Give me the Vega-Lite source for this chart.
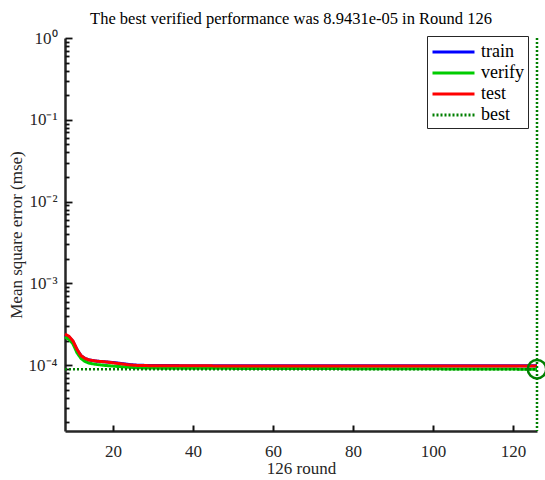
{
  "$schema": "https://vega.github.io/schema/vega-lite/v6.json",
  "width": 472,
  "height": 393,
  "autosize": "none",
  "padding": {"left": 65, "top": 38, "right": 8, "bottom": 49},
  "background": "white",
  "config": {
    "view": {"stroke": null},
    "font": "Liberation Serif",
    "axis": {"grid": false, "domainColor": "#262626", "domainWidth": 2.5, "labelFont": "Liberation Serif", "labelFontSize": 17, "labelColor": "#262626", "titleFont": "Liberation Serif", "titleFontSize": 17, "titleFontWeight": "normal", "titleColor": "#262626"}
  },
  "title": {"text": "The best verified performance was 8.9431e-05 in Round 126", "font": "Liberation Serif", "fontSize": 16.5, "fontWeight": "normal", "color": "#000000", "offset": 2, "dx": -10},
  "resolve": {"axis": {"x": "independent", "y": "independent"}},
  "data": {"values": [
    {"series": "train", "round": 8, "mse": 0.000235},
    {"series": "train", "round": 9, "mse": 0.000222},
    {"series": "train", "round": 10, "mse": 0.000195},
    {"series": "train", "round": 11, "mse": 0.000155},
    {"series": "train", "round": 12, "mse": 0.000131},
    {"series": "train", "round": 13, "mse": 0.000121},
    {"series": "train", "round": 14, "mse": 0.000116},
    {"series": "train", "round": 16, "mse": 0.000112},
    {"series": "train", "round": 18, "mse": 0.000110},
    {"series": "train", "round": 20, "mse": 0.000108},
    {"series": "train", "round": 22, "mse": 0.000105},
    {"series": "train", "round": 24, "mse": 0.000102},
    {"series": "train", "round": 26, "mse": 0.000100},
    {"series": "train", "round": 30, "mse": 0.0000990},
    {"series": "train", "round": 40, "mse": 0.0000988},
    {"series": "train", "round": 60, "mse": 0.0000987},
    {"series": "train", "round": 80, "mse": 0.0000987},
    {"series": "train", "round": 100, "mse": 0.0000986},
    {"series": "train", "round": 126, "mse": 0.0000986},
    {"series": "verify", "round": 8, "mse": 0.000222},
    {"series": "verify", "round": 9, "mse": 0.000208},
    {"series": "verify", "round": 10, "mse": 0.000182},
    {"series": "verify", "round": 11, "mse": 0.000142},
    {"series": "verify", "round": 12, "mse": 0.000121},
    {"series": "verify", "round": 13, "mse": 0.000111},
    {"series": "verify", "round": 14, "mse": 0.000106},
    {"series": "verify", "round": 16, "mse": 0.000102},
    {"series": "verify", "round": 18, "mse": 0.0000995},
    {"series": "verify", "round": 20, "mse": 0.0000975},
    {"series": "verify", "round": 22, "mse": 0.0000960},
    {"series": "verify", "round": 24, "mse": 0.0000945},
    {"series": "verify", "round": 26, "mse": 0.0000930},
    {"series": "verify", "round": 30, "mse": 0.0000922},
    {"series": "verify", "round": 40, "mse": 0.0000918},
    {"series": "verify", "round": 60, "mse": 0.0000912},
    {"series": "verify", "round": 80, "mse": 0.0000908},
    {"series": "verify", "round": 100, "mse": 0.0000903},
    {"series": "verify", "round": 126, "mse": 0.000089431},
    {"series": "test", "round": 8, "mse": 0.000240},
    {"series": "test", "round": 9, "mse": 0.000226},
    {"series": "test", "round": 10, "mse": 0.000198},
    {"series": "test", "round": 11, "mse": 0.000156},
    {"series": "test", "round": 12, "mse": 0.000131},
    {"series": "test", "round": 13, "mse": 0.000121},
    {"series": "test", "round": 14, "mse": 0.000116},
    {"series": "test", "round": 16, "mse": 0.000112},
    {"series": "test", "round": 18, "mse": 0.000110},
    {"series": "test", "round": 20, "mse": 0.000107},
    {"series": "test", "round": 22, "mse": 0.000104},
    {"series": "test", "round": 24, "mse": 0.000101},
    {"series": "test", "round": 26, "mse": 0.0000995},
    {"series": "test", "round": 30, "mse": 0.0000985},
    {"series": "test", "round": 40, "mse": 0.0000982},
    {"series": "test", "round": 60, "mse": 0.0000981},
    {"series": "test", "round": 80, "mse": 0.0000980},
    {"series": "test", "round": 100, "mse": 0.0000980},
    {"series": "test", "round": 126, "mse": 0.0000980},
    {"series": "best", "round": 8, "mse": 0.000089431},
    {"series": "best", "round": 126, "mse": 0.000089431}
  ]},
  "encoding": {
    "x": {"field": "round", "type": "quantitative", "scale": {"domain": [8, 126], "nice": false, "zero": false}, "axis": null},
    "y": {"field": "mse", "type": "quantitative", "scale": {"type": "log", "domain": [0.0000157, 1], "nice": false}, "axis": null},
    "color": {"field": "series", "type": "nominal",
      "scale": {"domain": ["train", "verify", "test", "best"], "range": ["#0000FF", "#00CC00", "#FF0000", "#007F00"]},
      "legend": {"title": null, "orient": "none", "legendX": 362, "legendY": -2, "symbolType": "M-1,0H3", "symbolSize": 441, "symbolStrokeWidth": 3, "labelFont": "Liberation Serif", "labelFontSize": 18, "labelColor": "#000000", "strokeColor": "#262626", "fillColor": "white", "padding": 4, "rowPadding": 0, "labelOffset": 26, "cornerRadius": 0}},
    "strokeDash": {"field": "series", "type": "nominal",
      "scale": {"domain": ["train", "verify", "test", "best"], "range": [[1, 0], [1, 0], [1, 0], [2, 2]]},
      "legend": {"title": null, "orient": "none", "legendX": 362, "legendY": -2, "symbolType": "M-1,0H3", "symbolSize": 441, "symbolStrokeWidth": 3, "labelFont": "Liberation Serif", "labelFontSize": 18, "labelColor": "#000000", "strokeColor": "#262626", "fillColor": "white", "padding": 4, "rowPadding": 0, "labelOffset": 26, "cornerRadius": 0}}
  },
  "layer": [
    {"transform": [{"filter": "datum.series === 'train'"}], "mark": {"type": "line", "strokeWidth": 3},
      "encoding": {
        "x": {"field": "round", "type": "quantitative", "scale": {"domain": [8, 126], "nice": false, "zero": false},
          "axis": {"orient": "bottom", "title": "126 round", "values": [20, 40, 60, 80, 100, 120], "ticks": false, "labelPadding": 12, "titlePadding": 1}},
        "y": {"field": "mse", "type": "quantitative", "scale": {"type": "log", "domain": [0.0000157, 1], "nice": false},
          "axis": {"orient": "left", "title": "Mean square error (mse)", "titlePadding": 3,
            "values": [0.0001, 0.001, 0.01, 0.1, 1],
            "labelExpr": "['10⁰','10⁻¹','10⁻²','10⁻³','10⁻⁴','10⁻⁵'][-round(log(datum.value)/LN10)]",
            "ticks": false,
            "labelPadding": 8}}
      }},
    {"transform": [{"filter": "datum.series === 'verify'"}], "mark": {"type": "line", "strokeWidth": 3}},
    {"transform": [{"filter": "datum.series === 'test'"}], "mark": {"type": "line", "strokeWidth": 3}},
    {"transform": [{"filter": "datum.series === 'best'"}], "mark": {"type": "line", "strokeWidth": 2.5},
      "encoding": {
        "x": {"field": "round", "type": "quantitative", "scale": {"domain": [8, 126], "nice": false, "zero": false},
          "axis": {"orient": "top", "offset": -393, "title": null, "labels": false, "domain": false, "values": [20, 40, 60, 80, 100, 120], "tickSize": 6, "tickColor": "#111111", "tickWidth": 2}},
        "y": {"field": "mse", "type": "quantitative", "scale": {"type": "log", "domain": [0.0000157, 1], "nice": false},
          "axis": {"orient": "right", "offset": -472, "title": null, "labels": false, "domain": false, "tickColor": "#111111", "tickWidth": 1.8,
            "values": [0.00002,0.00003,0.00004,0.00005,0.00006,0.00007,0.00008,0.00009,0.0001,0.0002,0.0003,0.0004,0.0005,0.0006,0.0007,0.0008,0.0009,0.001,0.002,0.003,0.004,0.005,0.006,0.007,0.008,0.009,0.01,0.02,0.03,0.04,0.05,0.06,0.07,0.08,0.09,0.1,0.2,0.3,0.4,0.5,0.6,0.7,0.8,0.9,1],
            "tickSize": {"condition": {"test": "abs(log(datum.value)/LN10 - round(log(datum.value)/LN10)) < 0.001", "value": 7}, "value": 4}}}
      }},
    {"data": {"values": [{"bestRound": 126}]}, "mark": {"type": "rule", "color": "#007F00", "strokeWidth": 2.5, "strokeDash": [2, 2]},
      "encoding": {"x": {"field": "bestRound", "type": "quantitative", "axis": null}, "y": null, "color": null, "strokeDash": null}},
    {"data": {"values": [{"bestRound": 126, "bestMse": 0.000089431}]}, "mark": {"type": "point", "shape": "circle", "filled": false, "size": 340, "strokeWidth": 2.5, "color": "#007F00", "opacity": 1},
      "encoding": {"x": {"field": "bestRound", "type": "quantitative", "axis": null}, "y": {"field": "bestMse", "type": "quantitative", "axis": null}, "color": null, "strokeDash": null}}
  ]
}
